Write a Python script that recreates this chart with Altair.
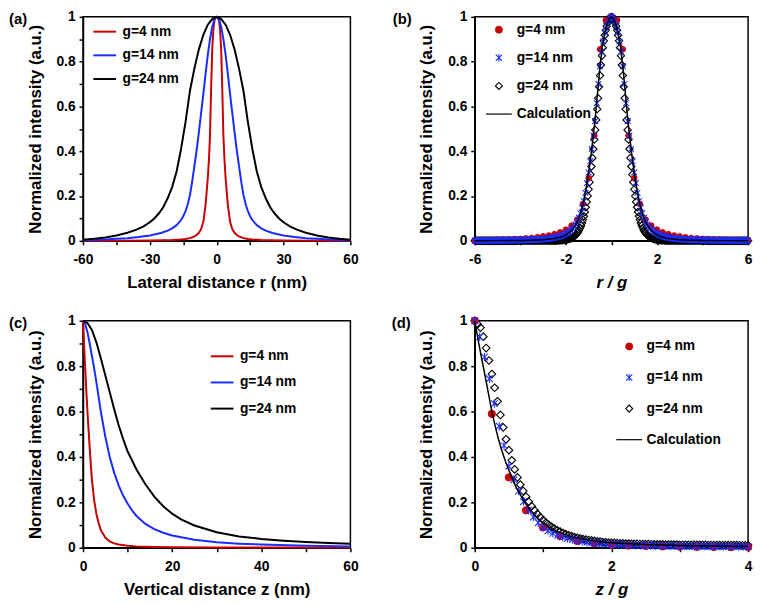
import altair as alt
import pandas as pd

FONT = "Liberation Sans"
RED = "#c80000"
BLUE = "#1a2cff"
BLACK = "#000000"
SERIES = ["g=4 nm", "g=14 nm", "g=24 nm"]
GAPS = [4, 14, 24]

# ---------------- (a) lateral profiles, r >= 0 (profiles are symmetric) ----------------
A_R_RED = [0, 0.5, 1, 1.5, 2, 2.5, 3, 3.5, 4, 5, 6, 7, 8, 9, 10, 12, 14, 16, 20, 24, 30, 40, 50, 60]
A_RED = [1.0, 0.997, 0.985, 0.945, 0.855, 0.68, 0.47, 0.36, 0.28, 0.16, 0.085, 0.052, 0.036, 0.026,
         0.02, 0.012, 0.008, 0.006, 0.004, 0.003, 0.002, 0.001, 0.0005, 0.0003]
A_R_BLUE = [0, 1, 2, 3, 4, 5, 6, 7, 8, 9, 10, 11, 12, 13, 14, 15, 16, 18, 20, 22, 25, 30, 35, 40, 45, 50, 55, 60]
A_BLUE = [1.0, 0.99, 0.955, 0.9, 0.83, 0.745, 0.655, 0.57, 0.485, 0.405, 0.335, 0.265, 0.205, 0.163,
          0.133, 0.11, 0.093, 0.07, 0.056, 0.046, 0.035, 0.024, 0.017, 0.012, 0.009, 0.006, 0.004, 0.003]
A_R_BLACK = [0, 2, 4, 6, 8, 10, 12, 14, 16, 18, 20, 22, 24, 26, 28, 30, 33, 36, 40, 45, 50, 55, 60]
A_BLACK = [1.0, 0.99, 0.965, 0.92, 0.855, 0.77, 0.67, 0.53, 0.41, 0.31, 0.24, 0.19, 0.15, 0.122,
           0.1, 0.083, 0.064, 0.05, 0.036, 0.024, 0.015, 0.009, 0.005]

# ---------------- (b) points vs r/g, sampled every 1 nm (index k -> r/g = k/g), k >= 0 ----------------
B_RED = [1.0, 0.985, 0.855, 0.47, 0.28, 0.165, 0.095, 0.068, 0.05, 0.038, 0.03, 0.024, 0.02,
         0.016, 0.013, 0.011, 0.009, 0.008, 0.007, 0.006, 0.005, 0.0045, 0.004, 0.0035, 0.003]
B_BLUE = [1.0, 0.995, 0.98, 0.96, 0.93, 0.89, 0.845, 0.78, 0.7, 0.615,
          0.535, 0.47, 0.41, 0.355, 0.305, 0.258, 0.215, 0.178, 0.148, 0.123,
          0.103, 0.087, 0.074, 0.063, 0.054, 0.047, 0.041, 0.036, 0.032, 0.028,
          0.025, 0.022, 0.02, 0.018, 0.016, 0.015, 0.013, 0.012, 0.011, 0.01,
          0.009, 0.0085, 0.008, 0.0075, 0.007, 0.0065, 0.006, 0.0057, 0.0054, 0.0051,
          0.0048, 0.0045, 0.0043, 0.0041, 0.0039, 0.0037, 0.0035, 0.0033, 0.0032, 0.003,
          0.0029, 0.0028, 0.0027, 0.0026, 0.0025, 0.0024, 0.0023, 0.0022, 0.0021, 0.002,
          0.002, 0.0019, 0.0018, 0.0018, 0.0017, 0.0016, 0.0016, 0.0015, 0.0015, 0.0014,
          0.0014, 0.0013, 0.0013, 0.0012, 0.0012]
B_BLACK = [1.0, 0.998, 0.994, 0.985, 0.973, 0.958, 0.94, 0.918, 0.893, 0.862,
           0.826, 0.785, 0.738, 0.688, 0.637, 0.588, 0.54, 0.495, 0.452, 0.41,
           0.37, 0.332, 0.296, 0.262, 0.23, 0.2, 0.174, 0.15, 0.129, 0.11,
           0.094, 0.08, 0.068, 0.058, 0.049, 0.041, 0.035, 0.03, 0.025, 0.021,
           0.018, 0.015, 0.013, 0.011, 0.0095, 0.008, 0.007, 0.006, 0.005, 0.0045,
           0.004, 0.0036, 0.0032, 0.0029, 0.0026, 0.0023, 0.0021, 0.0019, 0.0017, 0.0015,
           0.0014, 0.0013, 0.0012, 0.0011, 0.001, 0.001, 0.001, 0.001, 0.001, 0.001,
           0.001, 0.001, 0.001, 0.001, 0.001, 0.001, 0.001, 0.001, 0.001, 0.001,
           0.0009, 0.0009, 0.0009, 0.0009, 0.0009, 0.0009, 0.0009, 0.0009, 0.0009, 0.0009,
           0.0009, 0.0009, 0.0009, 0.0009, 0.0009, 0.0009, 0.0009, 0.0009, 0.0009, 0.0009,
           0.0008, 0.0008, 0.0008, 0.0008, 0.0008, 0.0008, 0.0008, 0.0008, 0.0008, 0.0008,
           0.0008, 0.0008, 0.0008, 0.0008, 0.0008, 0.0008, 0.0008, 0.0008, 0.0008, 0.0008,
           0.0007, 0.0007, 0.0007, 0.0007, 0.0007, 0.0007, 0.0007, 0.0007, 0.0007, 0.0007,
           0.0007, 0.0007, 0.0007, 0.0007, 0.0007, 0.0007, 0.0007, 0.0007, 0.0007, 0.0007,
           0.0006, 0.0006, 0.0006, 0.0006, 0.0006]
B_CALC_U = [0, 0.1, 0.2, 0.3, 0.4, 0.5, 0.6, 0.7, 0.8, 0.9, 1.0, 1.1, 1.2, 1.3, 1.4, 1.5, 1.6, 1.7,
            1.8, 1.9, 2.0, 2.2, 2.4, 2.6, 2.8, 3.0, 3.5, 4.0, 5.0, 6.0]
B_CALC = [1.0, 0.99, 0.965, 0.925, 0.865, 0.78, 0.67, 0.56, 0.465, 0.38, 0.305, 0.24, 0.185, 0.143,
          0.11, 0.085, 0.066, 0.052, 0.041, 0.033, 0.027, 0.018, 0.012, 0.009, 0.007, 0.005, 0.003,
          0.002, 0.001, 0.0005]

# ---------------- (c) vertical profiles ----------------
C_Z_RED = [0, 0.25, 0.5, 0.75, 1, 1.5, 2, 2.5, 3, 3.5, 4, 5, 6, 7, 8, 10, 12, 14, 16, 20, 30, 40, 60]
C_RED = [1.0, 0.89, 0.79, 0.69, 0.6, 0.44, 0.3, 0.21, 0.15, 0.108, 0.078, 0.045, 0.028, 0.019, 0.014,
         0.009, 0.006, 0.0045, 0.0035, 0.0025, 0.0015, 0.001, 0.0005]
C_Z_BLUE = [0, 0.5, 1, 1.5, 2, 2.5, 3, 4, 5, 6, 7, 8, 9, 10, 11, 12, 14, 16, 18, 20, 25, 30, 35, 40, 50, 60]
C_BLUE = [1.0, 0.985, 0.95, 0.9, 0.845, 0.79, 0.73, 0.6, 0.49, 0.4, 0.33, 0.275, 0.23, 0.195, 0.165,
          0.14, 0.105, 0.082, 0.066, 0.054, 0.035, 0.024, 0.018, 0.014, 0.009, 0.006]
C_Z_BLACK = [0, 1, 2, 3, 4, 5, 6, 7, 8, 9, 10, 12, 14, 16, 18, 20, 22, 25, 30, 35, 40, 45, 50, 55, 60]
C_BLACK = [1.0, 0.99, 0.96, 0.905, 0.835, 0.76, 0.685, 0.61, 0.54, 0.48, 0.425, 0.345, 0.28, 0.225,
           0.183, 0.15, 0.125, 0.098, 0.068, 0.05, 0.039, 0.031, 0.025, 0.021, 0.018]

# ---------------- (d) points vs z/g, sampled every 1 nm (index k -> z/g = k/g) ----------------
D_RED = [1.0, 0.59, 0.31, 0.165, 0.09, 0.052, 0.03, 0.019, 0.013, 0.01, 0.008, 0.006, 0.005,
         0.004, 0.0035, 0.003, 0.003]
D_BLUE = [1.0, 0.93, 0.84, 0.745, 0.635, 0.535, 0.45, 0.36, 0.3, 0.25,
          0.203, 0.165, 0.135, 0.11, 0.09, 0.075, 0.064, 0.055, 0.047, 0.041,
          0.036, 0.032, 0.028, 0.025, 0.022, 0.02, 0.018, 0.016, 0.015, 0.014,
          0.013, 0.012, 0.011, 0.0105, 0.01, 0.0095, 0.009, 0.0085, 0.008, 0.0078,
          0.0075, 0.0072, 0.007, 0.0068, 0.0066, 0.0064, 0.0062, 0.006, 0.0058, 0.0056,
          0.0055, 0.0054, 0.0053, 0.0052, 0.0051, 0.005, 0.005]
D_BLACK = [1.0, 0.985, 0.97, 0.93, 0.88, 0.825, 0.765, 0.705, 0.645, 0.585,
           0.53, 0.478, 0.43, 0.385, 0.345, 0.31, 0.278, 0.25, 0.225, 0.203,
           0.183, 0.165, 0.149, 0.135, 0.122, 0.111, 0.101, 0.092, 0.084, 0.077,
           0.071, 0.065, 0.06, 0.055, 0.051, 0.047, 0.044, 0.041, 0.038, 0.036,
           0.034, 0.032, 0.03, 0.028, 0.027, 0.025, 0.024, 0.023, 0.022,
           0.021, 0.02, 0.0195, 0.019, 0.0185, 0.018, 0.0175, 0.017,
           0.0167, 0.0164, 0.0161, 0.0158, 0.0155, 0.0152, 0.015, 0.0148,
           0.0146, 0.0144, 0.0142, 0.014, 0.0138, 0.0136, 0.0134, 0.0132,
           0.013, 0.0129, 0.0128, 0.0127, 0.0126, 0.0125, 0.0124, 0.0123,
           0.0122, 0.0121, 0.012, 0.0119, 0.0118, 0.0117, 0.0116, 0.0115,
           0.0114, 0.0113, 0.0112, 0.0111, 0.011, 0.0109, 0.0108, 0.0107]
D_CALC_U = [0, 0.05, 0.1, 0.15, 0.2, 0.25, 0.3, 0.35, 0.4, 0.45, 0.5, 0.6, 0.7, 0.8, 0.9, 1.0,
            1.2, 1.4, 1.6, 1.8, 2.0, 2.5, 3.0, 3.5, 4.0]
D_CALC = [1.0, 0.915, 0.835, 0.76, 0.68, 0.6, 0.535, 0.475, 0.425, 0.38, 0.34, 0.27, 0.215, 0.17,
          0.135, 0.108, 0.072, 0.05, 0.037, 0.028, 0.022, 0.014, 0.01, 0.008, 0.006]

# ---------------- axis tick lists ----------------
Y_TICKS = [0, 0.1, 0.2, 0.3, 0.4, 0.5, 0.6, 0.7, 0.8, 0.9, 1.0]
XA_TICKS = [-60, -45, -30, -15, 0, 15, 30, 45, 60]
XB_TICKS = [-6, -4, -2, 0, 2, 4, 6]
XC_TICKS = [0, 10, 20, 30, 40, 50, 60]
XD_TICKS = [0, 1, 2, 3, 4]

ASTERISK = "M-0.9,-0.9L0.9,0.9M-0.9,0.9L0.9,-0.9M0,-1.1L0,1.1"
LONG_STROKE = "M-3.7,0L3.7,0"
Y_LABEL_EXPR = ("round(datum.value*10) % 2 == 0 ? (datum.value == 0 ? '0' : "
                "(datum.value == 1 ? '1' : format(datum.value, '.1f'))) : ''")


def mirrored(xs, ys):
    return [-v for v in xs[:0:-1]] + list(xs), list(ys[:0:-1]) + list(ys)


def line_frame(items, symmetric):
    rows = []
    for name, xs, ys in items:
        if symmetric:
            xs, ys = mirrored(xs, ys)
        rows += [{"x": a, "y": b, "series": name} for a, b in zip(xs, ys)]
    return pd.DataFrame(rows)


def point_frame(items, symmetric):
    rows = []
    for name, g, ys in items:
        xs = [k / g for k in range(len(ys))]
        if symmetric:
            xs, ys = mirrored(xs, ys)
        rows += [{"x": a, "y": b, "series": name, "grp": name} for a, b in zip(xs, ys)]
    return pd.DataFrame(rows)


def y_enc():
    return alt.Y("y:Q", scale=alt.Scale(domain=[0, 1], nice=False),
                 axis=alt.Axis(title="Normalized intensity (a.u.)", values=Y_TICKS,
                               labelExpr=Y_LABEL_EXPR, titlePadding=12, labelPadding=4))


def x_enc(domain, ticks, expr, title, italic=False):
    kw = dict(title=title, values=ticks, labelExpr=expr, labelFlush=False,
              labelOverlap=False, titlePadding=8, labelPadding=8)
    if italic:
        kw["titleFontStyle"] = "italic"
    return alt.X("x:Q", scale=alt.Scale(domain=domain, nice=False), axis=alt.Axis(**kw))


def panel_title(text, dx):
    return alt.TitleParams(text=text, anchor="start", frame="group", dx=dx, offset=-17,
                           fontSize=15, fontWeight="bold", font=FONT, color="black")


def line_panel(df, xenc, lx, ly, rowpad, title, w, h):
    leg = alt.Legend(title=None, orient="none", legendX=lx, legendY=ly, symbolType="stroke",
                     symbolSize=530, symbolStrokeWidth=2, labelFontSize=14, labelFont=FONT,
                     labelFontWeight="bold", labelColor="black", rowPadding=rowpad,
                     labelOffset=5, padding=0)
    return alt.Chart(df, title=title).mark_line(strokeWidth=2).encode(
        x=xenc, y=y_enc(),
        color=alt.Color("series:N", scale=alt.Scale(domain=SERIES, range=[RED, BLUE, BLACK]),
                        legend=leg),
    ).properties(width=w, height=h)


def point_panel(pdf, cdf, xenc, lx, ly, rowpad, loff, sizes, title, w, h):
    dom = SERIES + ["Calculation"]
    leg = alt.Legend(title=None, orient="none", legendX=lx, legendY=ly, labelFontSize=14,
                     labelFont=FONT, labelFontWeight="bold", labelColor="black",
                     rowPadding=rowpad, labelOffset=loff, padding=0, symbolSize=50)
    pts = alt.Chart(pdf).mark_point(filled=False, opacity=1).encode(
        x=xenc, y=y_enc(),
        shape=alt.Shape("series:N", scale=alt.Scale(domain=dom, range=["circle", ASTERISK, "diamond", LONG_STROKE]), legend=leg),
        fill=alt.Fill("series:N", scale=alt.Scale(domain=dom, range=[RED, "transparent", "transparent", "transparent"]), legend=leg),
        stroke=alt.Stroke("series:N", scale=alt.Scale(domain=dom, range=[RED, BLUE, BLACK, BLACK]), legend=leg),
        strokeWidth=alt.StrokeWidth("series:N", scale=alt.Scale(domain=dom, range=[1, 1.2, 1, 2]), legend=leg),
        size=alt.Size("grp:N", scale=alt.Scale(domain=SERIES, range=sizes), legend=None),
    )
    calc = alt.Chart(cdf).mark_line(color=BLACK, strokeWidth=1.5).encode(x="x:Q", y="y:Q")
    return alt.layer(pts, calc, title=title).properties(width=w, height=h)


df_a = line_frame([(SERIES[0], A_R_RED, A_RED), (SERIES[1], A_R_BLUE, A_BLUE),
                   (SERIES[2], A_R_BLACK, A_BLACK)], True)
df_c = line_frame([(SERIES[0], C_Z_RED, C_RED), (SERIES[1], C_Z_BLUE, C_BLUE),
                   (SERIES[2], C_Z_BLACK, C_BLACK)], False)
# drawing order: diamonds first, then circles, then asterisks on top
pts_b = point_frame([(SERIES[2], 24, B_BLACK), (SERIES[0], 4, B_RED), (SERIES[1], 14, B_BLUE)], True)
pts_d = point_frame([(SERIES[2], 24, D_BLACK), (SERIES[0], 4, D_RED), (SERIES[1], 14, D_BLUE)], False)
calc_b = line_frame([("Calculation", B_CALC_U, B_CALC)], True)
calc_d = line_frame([("Calculation", D_CALC_U, D_CALC)], False)

pa = line_panel(df_a, x_enc([-60, 60], XA_TICKS, "datum.value % 30 == 0 ? toString(datum.value) : ''",
                            "Lateral distance r (nm)"), 9, 2, 4, panel_title("(a)", -75), 271, 227)
pb = point_panel(pts_b, calc_b, x_enc([-6, 6], XB_TICKS, "(datum.value + 6) % 4 == 0 ? toString(datum.value) : ''",
                                      "r / g", True), 17.5, 6, 14.5, 11, [32, 55, 40], panel_title("(b)", -83), 277, 227)
pc = line_panel(df_c, x_enc([0, 60], XC_TICKS, "datum.value % 20 == 0 ? toString(datum.value) : ''",
                            "Vertical distance z (nm)"), 128, 23, 6.5, panel_title("(c)", -75), 271, 230)
pd_ = point_panel(pts_d, calc_d, x_enc([0, 4], XD_TICKS, "datum.value % 2 == 0 ? toString(datum.value) : ''",
                                       "z / g", True), 149.5, 19, 17.5, 10.5, [55, 60, 50], panel_title("(d)", -84), 277, 230)

chart = alt.concat(
    pa, pb, pc, pd_, columns=2, spacing={"row": 81, "column": 126}, bounds="flush",
).resolve_scale(
    color="independent", shape="independent", fill="independent", stroke="independent",
    size="independent", strokeWidth="independent", x="independent", y="independent",
).resolve_legend(
    color="independent", shape="independent", fill="independent", stroke="independent",
    size="independent", strokeWidth="independent",
).properties(
    padding={"left": 0, "top": -3, "right": 0, "bottom": 0}
).configure_view(
    stroke="black", strokeWidth=1.5
).configure_axis(
    domainColor="black", domainWidth=1.5, tickColor="black", tickWidth=1.5, tickSize=4,
    labelFont=FONT, labelFontSize=14, labelFontWeight="bold", labelColor="black",
    titleFont=FONT, titleFontSize=17, titleFontWeight="bold", titleColor="black", grid=False,
)

chart.save("out.html", embed_options={"renderer": "svg", "actions": False})
